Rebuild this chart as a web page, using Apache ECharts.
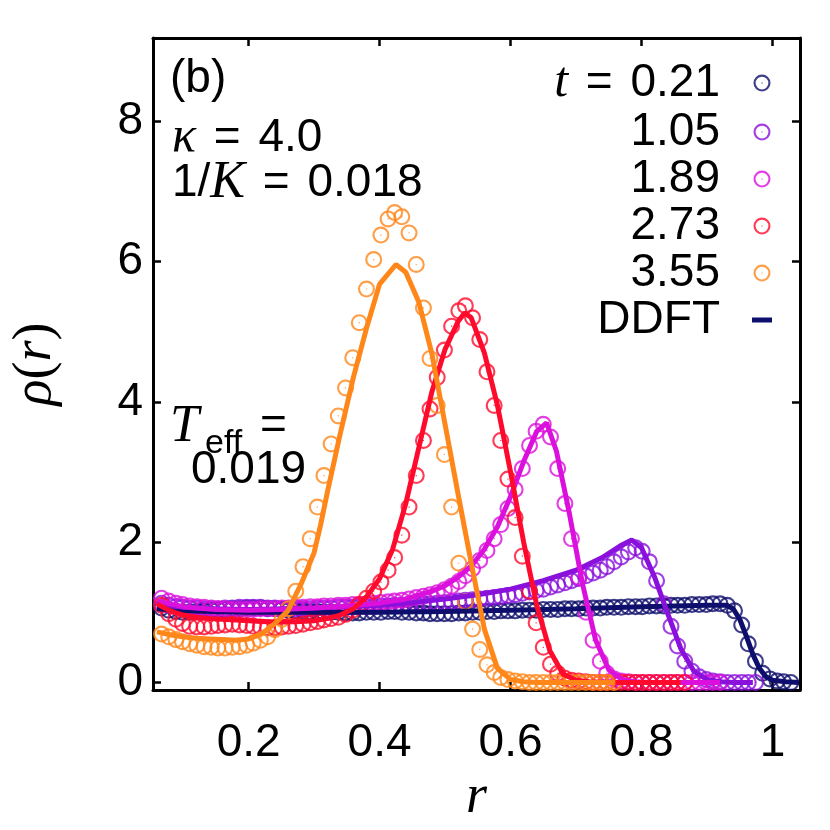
<!DOCTYPE html>
<html>
<head>
<meta charset="utf-8">
<title>rho(r)</title>
<script src="https://cdn.jsdelivr.net/npm/echarts@6/dist/echarts.min.js"></script>
<style>
html,body{margin:0;padding:0;background:#fff;}
#main{width:830px;height:830px;}
</style>
</head>
<body>
<div id="main"></div>
<script>
// r positions of the simulation points (shared by all five times)
var rGrid = [0.067,0.078,0.089,0.099,0.110,0.121,0.132,0.143,0.153,0.164,
  0.175,0.186,0.197,0.207,0.218,0.229,0.240,0.251,0.261,0.272,
  0.283,0.294,0.305,0.315,0.326,0.337,0.348,0.359,0.369,0.380,
  0.391,0.402,0.413,0.423,0.434,0.445,0.456,0.467,0.477,0.488,
  0.499,0.510,0.521,0.531,0.542,0.553,0.564,0.575,0.585,0.596,
  0.607,0.618,0.629,0.639,0.650,0.661,0.672,0.683,0.693,0.704,
  0.715,0.726,0.737,0.747,0.758,0.769,0.780,0.791,0.801,0.812,
  0.823,0.834,0.845,0.855,0.866,0.877,0.888,0.899,0.909,0.920,
  0.931,0.942,0.953,0.963,0.974,0.985,0.996,1.007,1.017,1.028];

// simulation (circles)
var sim021 = [1.06,1.03,1.01,1.00,1.00,1.01,1.02,1.03,1.04,1.04,
  1.05,1.05,1.06,1.06,1.06,1.05,1.05,1.04,1.03,1.02,
  1.02,1.01,1.01,1.00,1.00,1.00,0.99,0.99,0.99,1.00,
  1.00,1.00,1.01,1.01,1.00,1.00,0.99,0.99,0.98,0.98,
  0.98,0.98,0.99,0.99,1.00,1.00,1.01,1.01,1.02,1.02,
  1.02,1.03,1.03,1.03,1.04,1.04,1.04,1.05,1.05,1.05,
  1.06,1.06,1.06,1.07,1.07,1.07,1.08,1.08,1.08,1.09,
  1.09,1.09,1.10,1.10,1.10,1.11,1.11,1.11,1.12,1.12,
  1.10,1.02,0.82,0.55,0.30,0.13,0.05,0.02,0.01,0.00];
var sim105 = [1.13,1.10,1.08,1.07,1.06,1.06,1.05,1.05,1.05,1.06,
  1.06,1.07,1.07,1.07,1.07,1.06,1.06,1.05,1.05,1.05,
  1.05,1.05,1.06,1.06,1.06,1.07,1.07,1.07,1.08,1.08,
  1.08,1.09,1.09,1.10,1.10,1.11,1.11,1.12,1.12,1.13,
  1.14,1.15,1.16,1.17,1.18,1.19,1.20,1.21,1.22,1.24,
  1.25,1.27,1.29,1.31,1.33,1.36,1.39,1.42,1.45,1.48,
  1.52,1.56,1.60,1.65,1.72,1.79,1.86,1.92,1.87,1.72,
  1.45,1.12,0.80,0.52,0.30,0.16,0.08,0.04,0.02,0.01,
  0.00,0.00,0.00,0.00,0.00];
var sim189 = [1.20,1.16,1.13,1.11,1.09,1.08,1.07,1.06,1.05,1.05,
  1.04,1.04,1.04,1.04,1.05,1.05,1.05,1.06,1.06,1.07,
  1.07,1.08,1.08,1.09,1.09,1.10,1.10,1.11,1.11,1.12,
  1.13,1.14,1.15,1.16,1.17,1.19,1.21,1.23,1.25,1.28,
  1.32,1.37,1.44,1.52,1.62,1.74,1.88,2.05,2.25,2.48,
  2.75,3.05,3.38,3.58,3.68,3.50,3.05,2.55,2.05,1.50,
  1.00,0.60,0.30,0.13,0.05,0.02,0.01,0.00,0.00,0.00,
  0.00,0.00,0.00,0.00,0.00,0.00,0.00,0.00,0.00,0.00];
var sim273 = [1.10,0.98,0.90,0.84,0.80,0.79,0.79,0.80,0.81,0.82,
  0.83,0.82,0.81,0.80,0.79,0.78,0.78,0.79,0.80,0.81,
  0.83,0.85,0.87,0.89,0.91,0.93,0.97,1.03,1.11,1.20,
  1.30,1.43,1.60,1.78,2.10,2.50,2.95,3.45,3.90,4.35,
  4.74,5.08,5.30,5.37,5.20,4.89,4.43,3.95,3.45,2.90,
  2.35,1.80,1.30,0.85,0.50,0.26,0.13,0.06,0.03,0.02,
  0.01,0.00,0.00,0.00,0.00,0.00,0.00,0.00,0.00,0.00,
  0.00,0.00,0.00,0.00,0.00];
var sim355 = [0.69,0.65,0.61,0.58,0.55,0.53,0.51,0.50,0.49,0.49,
  0.50,0.51,0.53,0.56,0.60,0.65,0.75,0.90,1.05,1.30,
  1.65,2.05,2.50,2.95,3.40,3.80,4.20,4.63,5.13,5.61,
  6.03,6.38,6.61,6.70,6.64,6.41,5.96,5.34,4.62,3.95,
  3.25,2.50,1.70,1.15,0.76,0.47,0.25,0.14,0.07,0.04,
  0.02,0.01,0.00,0.00,0.00,0.00,0.00,0.00,0.00,0.00,
  0.00,0.00,0.00,0.00,0.00];

// DDFT curves, [r, rho]
var ddft021 = [[0.06,1.05],[0.10,1.02],[0.15,1.01],[0.20,1.00],[0.30,1.00],[0.40,1.00],
  [0.50,1.01],[0.60,1.03],[0.70,1.05],[0.80,1.08],[0.90,1.10],[0.93,1.10],[0.94,1.05],
  [0.95,0.90],[0.96,0.66],[0.97,0.40],[0.98,0.20],[0.99,0.08],[1.00,0.03],[1.02,0.01],[1.04,0.00]];
var ddft105 = [[0.06,1.13],[0.08,1.09],[0.10,1.07],[0.15,1.05],[0.20,1.04],[0.25,1.05],
  [0.30,1.06],[0.35,1.08],[0.40,1.10],[0.45,1.14],[0.50,1.19],[0.55,1.25],[0.60,1.33],
  [0.65,1.45],[0.70,1.60],[0.74,1.78],[0.77,1.96],[0.785,2.03],[0.80,1.92],[0.82,1.50],
  [0.84,0.98],[0.86,0.48],[0.88,0.16],[0.90,0.04],[0.92,0.01],[0.94,0.00],[0.97,0.00]];
var ddft189 = [[0.06,1.16],[0.08,1.12],[0.10,1.08],[0.12,1.06],[0.15,1.04],[0.20,1.03],
  [0.25,1.04],[0.30,1.06],[0.35,1.09],[0.40,1.13],[0.44,1.19],[0.48,1.30],[0.50,1.38],
  [0.52,1.50],[0.54,1.66],[0.56,1.90],[0.58,2.22],[0.60,2.65],[0.62,3.15],[0.64,3.58],
  [0.655,3.70],[0.67,3.30],[0.69,2.40],[0.71,1.40],[0.73,0.60],[0.75,0.18],[0.77,0.04],
  [0.79,0.01],[0.81,0.00],[0.92,0.00]];
var ddft273 = [[0.06,1.12],[0.08,1.02],[0.10,0.96],[0.12,0.93],[0.14,0.91],[0.16,0.90],
  [0.18,0.89],[0.20,0.88],[0.22,0.87],[0.24,0.86],[0.26,0.86],[0.28,0.87],[0.30,0.88],
  [0.32,0.91],[0.34,0.96],[0.36,1.05],[0.38,1.22],[0.40,1.48],[0.42,1.90],[0.44,2.55],
  [0.46,3.35],[0.48,4.15],[0.50,4.75],[0.52,5.15],[0.53,5.27],[0.54,5.20],[0.56,4.70],
  [0.58,3.95],[0.60,3.00],[0.62,2.00],[0.64,1.10],[0.66,0.45],[0.68,0.12],[0.70,0.03],
  [0.72,0.01],[0.76,0.00],[0.86,0.00]];
var ddft355 = [[0.06,0.72],[0.08,0.68],[0.10,0.65],[0.12,0.63],[0.14,0.62],[0.16,0.61],
  [0.18,0.60],[0.20,0.62],[0.22,0.69],[0.24,0.84],[0.26,1.02],[0.28,1.40],[0.30,1.85],
  [0.31,2.25],[0.32,2.70],[0.34,3.55],[0.36,4.35],[0.38,5.05],[0.40,5.68],[0.425,5.96],
  [0.44,5.85],[0.46,5.42],[0.48,4.68],[0.50,3.68],[0.52,2.68],[0.54,1.70],[0.56,0.76],
  [0.58,0.20],[0.60,0.04],[0.62,0.01],[0.64,0.00],[0.76,0.00]];

var times = ['0.21','1.05','1.89','2.73','3.55'];
var colors = ['#0e0e6c','#8a10dc','#dc10dc','#ff0a2c','#ff8618'];
var simData = [sim021, sim105, sim189, sim273, sim355];
var ddftData = [ddft021, ddft105, ddft189, ddft273, ddft355];

var xTicks = [0.2, 0.4, 0.6, 0.8, 1];
var xTickLabels = ['0.2','0.4','0.6','0.8','1'];
var yTicks = [0, 2, 4, 6, 8];
var yTickLabels = ['0','2','4','6','8'];

var SANS = 'Liberation Sans';
var SERIF = 'Liberation Serif';
var FS = 46;
// open circle with a dot in the middle (gnuplot pt 6 look)
var ring = 'path://M0,10A10,10,0,1,1,20,10A10,10,0,1,1,0,10Z' +
  'M2.5,10A7.5,7.5,0,1,0,17.5,10A7.5,7.5,0,1,0,2.5,10Z' +
  'M9.3,9.3L10.7,9.3L10.7,10.7L9.3,10.7Z';
var dash = 'path://M0,0L20,0L20,5L0,5Z';

var chart = echarts.init(document.getElementById('main'), null, {renderer: 'canvas'});

var series = [];
times.forEach(function (t, i) {
  series.push({
    type: 'scatter',
    name: t,
    symbol: ring,
    symbolSize: 17,
    itemStyle: {color: colors[i]},
    data: simData[i].map(function (v, k) { return [rGrid[k], v]; }),
    z: 2,
    silent: true
  });
});
times.forEach(function (t, i) {
  series.push({
    type: 'line',
    name: 'DDFT',
    data: ddftData[i],
    showSymbol: false,
    symbol: 'none',
    lineStyle: {color: colors[i], width: 5},
    itemStyle: {color: colors[i]},
    z: 3,
    silent: true
  });
});

var legendData = times.map(function (t, i) {
  return {name: t, icon: ring, itemStyle: {color: colors[i], borderWidth: 0}};
});
legendData.push({name: 'DDFT', icon: dash, itemStyle: {color: colors[0], borderWidth: 0}});

function tickFmt(ticks, labels) {
  return function (v) {
    for (var i = 0; i < ticks.length; i++) {
      if (Math.abs(ticks[i] - v) < 1e-6) return labels[i];
    }
    return '';
  };
}

var axisLine = {show: true, onZero: false, lineStyle: {color: '#000', width: 3}};
var tickStyle = {color: '#000', width: 2.5};
var italic = {fontFamily: SERIF, fontStyle: 'italic', fontSize: 50, color: '#000'};
var eq = {fontFamily: SANS, fontSize: FS, color: '#000', padding: [0, 5, 0, 5]};

var option = {
  animation: false,
  backgroundColor: '#fff',
  grid: {left: 153, top: 38, width: 647, height: 655},
  legend: {
    data: legendData,
    orient: 'vertical',
    align: 'right',
    right: 58,
    top: 58,
    padding: 0,
    itemGap: 1,
    itemWidth: 20,
    itemHeight: 17,
    selectedMode: false,
    formatter: function (name) {
      return name === '0.21' ? '{i|t}{e| = }0.21' : name;
    },
    textStyle: {
      fontFamily: SANS, fontSize: FS, color: '#000', lineHeight: 40,
      padding: [0, 27, 0, 0],
      rich: {i: italic, e: eq}
    }
  },
  xAxis: [{
    type: 'value', min: 0.054, max: 1.042, position: 'bottom',
    axisLine: axisLine,
    axisTick: {inside: true, length: 8, lineStyle: tickStyle, customValues: xTicks},
    axisLabel: {customValues: xTicks, formatter: tickFmt(xTicks, xTickLabels),
      fontFamily: SANS, fontSize: FS, color: '#000', margin: 30},
    splitLine: {show: false},
    name: 'r', nameLocation: 'middle', nameGap: 80,
    nameTextStyle: {fontFamily: SERIF, fontStyle: 'italic', fontSize: 54, color: '#000'}
  }, {
    type: 'value', min: 0.054, max: 1.042, position: 'top',
    axisLine: axisLine,
    axisTick: {inside: true, length: 8, lineStyle: tickStyle, customValues: xTicks},
    axisLabel: {show: false},
    splitLine: {show: false}
  }],
  yAxis: [{
    type: 'value', min: -0.11, max: 9.19, position: 'left',
    axisLine: axisLine,
    axisTick: {inside: true, length: 8, lineStyle: tickStyle, customValues: yTicks},
    axisLabel: {customValues: yTicks, formatter: tickFmt(yTicks, yTickLabels),
      fontFamily: SANS, fontSize: FS, color: '#000', margin: 10},
    splitLine: {show: false},
    name: '{i|ρ}({i|r})', nameLocation: 'middle', nameGap: 90, nameRotate: 90,
    nameTextStyle: {fontFamily: SERIF, fontSize: 54, color: '#000',
      rich: {i: {fontFamily: SERIF, fontStyle: 'italic', fontSize: 54, color: '#000'}}}
  }, {
    type: 'value', min: -0.11, max: 9.19, position: 'right',
    axisLine: axisLine,
    axisTick: {inside: true, length: 8, lineStyle: tickStyle, customValues: yTicks},
    axisLabel: {show: false},
    splitLine: {show: false}
  }],
  graphic: [
    {type: 'text', left: 170, top: 56, style: {text: '(b)', font: FS + 'px "' + SANS + '"', fill: '#000'}},
    {type: 'text', left: 172, top: 113, style: {
      text: '{i|κ}{e| = }4.0', font: FS + 'px "' + SANS + '"', fill: '#000',
      rich: {i: italic, e: eq}}},
    {type: 'text', left: 172, top: 157, style: {
      text: '1/{i|K}{e| = }0.018', font: FS + 'px "' + SANS + '"', fill: '#000',
      rich: {i: {fontFamily: SERIF, fontStyle: 'italic', fontSize: 52}, e: eq}}},
    {type: 'text', left: 170, top: 401, style: {text: 'T', font: 'italic 52px "' + SERIF + '"', fill: '#000'}},
    {type: 'text', left: 205, top: 427, style: {text: 'eff', font: '34px "' + SANS + '"', fill: '#000'}},
    {type: 'text', left: 260, top: 403, style: {text: '=', font: FS + 'px "' + SANS + '"', fill: '#000'}},
    {type: 'text', left: 191, top: 447, style: {text: '0.019', font: FS + 'px "' + SANS + '"', fill: '#000'}}
  ],
  series: series
};
chart.setOption(option);
</script>
</body>
</html>
